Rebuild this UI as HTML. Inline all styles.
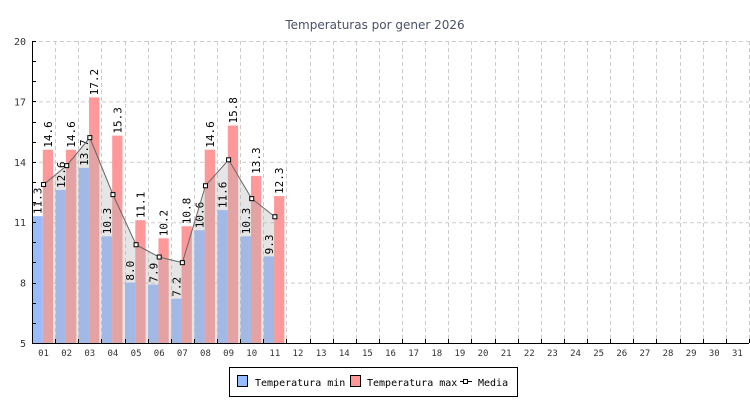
<!DOCTYPE html>
<html><head><meta charset="utf-8"><style>
body{margin:0;background:#fff;width:750px;height:400px;overflow:hidden}
svg{display:block}
text{font-family:"DejaVu Sans Mono","Liberation Mono",monospace}
</style></head><body>
<svg id="c" width="750" height="400">
<text x="375" y="29" text-anchor="middle" font-size="12" fill="#4a5068" style="font-family:'DejaVu Sans','Liberation Sans',sans-serif">Temperaturas por gener 2026</text>
<g id="grid"></g><g id="bars"></g><g id="area"></g><g id="axes"></g><g id="labels"></g><g id="line"></g>
<g>
<rect x="229.5" y="367.5" width="288" height="29" fill="#fff" stroke="#000"/>
<g><rect x="237.5" y="375.5" width="10" height="11" fill="#99bbff" stroke="#000"/><text x="255" y="386" font-size="10">Temperatura min</text></g>
<g><rect x="350.5" y="375.5" width="10" height="11" fill="#ff9999" stroke="#000"/><text x="367" y="386" font-size="10">Temperatura max</text></g>
<g><line x1="460" y1="381.5" x2="472" y2="381.5" stroke="#000"/><rect x="463.5" y="379.5" width="4" height="4" fill="#fff" stroke="#000"/><text x="478" y="386" font-size="10">Media</text></g>
</g>
</svg>
<script>
const days=["01","02","03","04","05","06","07","08","09","10","11","12","13","14","15","16","17","18","19","20","21","22","23","24","25","26","27","28","29","30","31"];
const minVals=[11.3,12.6,13.7,10.3,8.0,7.9,7.2,10.6,11.6,10.3,9.3];
const maxVals=[14.6,14.6,17.2,15.3,11.1,10.2,10.8,14.6,15.8,13.3,12.3];
const mediaVals=[12.87,13.81,15.2,12.37,9.88,9.27,8.99,12.81,14.1,12.17,11.27];
const yTicks=[5,8,11,14,17,20];
const NS="http://www.w3.org/2000/svg";
const X0=32,X1=749,Y0=343,Y1=41,YMIN=5,YMAX=20;
const cw=(X1-X0)/days.length;
const y=v=>Y0-(v-YMIN)/(YMAX-YMIN)*(Y0-Y1);
const xs=i=>X0+i*cw;
function mk(p,tag,at){const e=document.createElementNS(NS,tag);for(const k in at)e.setAttribute(k,at[k]);document.getElementById(p).appendChild(e);return e;}
yTicks.forEach(t=>{if(t>YMIN){const g=mk('grid','line',{x1:X0,x2:X1,y1:y(t)+.5,y2:y(t)+.5,stroke:'#ccc','stroke-dasharray':'4,3'});

}
const l=mk('axes','text',{x:26,y:y(t)+4,'text-anchor':'end','font-size':'10',fill:'#333'});l.textContent=t;

});
for(let v=YMIN;v<=YMAX;v++){mk('axes','line',{x1:X0,x2:X0+4,y1:Math.round(y(v))+.5,y2:Math.round(y(v))+.5,stroke:'#000'});}
days.forEach((d,i)=>{const gx=Math.round(xs(i+1))+.5;
const g=mk('grid','line',{x1:gx,x2:gx,y1:Y1,y2:Y0,stroke:'#ccc','stroke-dasharray':'4,3'});


mk('axes','line',{x1:gx,x2:gx,y1:Y0,y2:Y0-4,stroke:'#000'});
const l=mk('axes','text',{x:xs(i)+cw/2,y:Y0+13,'text-anchor':'middle','font-size':'9',fill:'#333'});l.textContent=d;

});
mk('axes','line',{x1:X0+.5,x2:X0+.5,y1:Y1,y2:Y0,stroke:'#000'});
mk('axes','line',{x1:X0,x2:X1,y1:Y0+.5,y2:Y0+.5,stroke:'#000'});
const bw=cw*0.445;
minVals.forEach((v,i)=>{const b=mk('bars','rect',{x:xs(i)+.5,y:y(v),width:bw,height:Y0-y(v),fill:'#99bbff'});


const t=mk('labels','text',{transform:`translate(${xs(i)+.5+bw/2+4},${y(v)-2}) rotate(-90)`,'font-size':'11',fill:'#000'});t.textContent=v.toFixed(1);

});
maxVals.forEach((v,i)=>{const bx=xs(i)+.5+bw;const b=mk('bars','rect',{x:bx,y:y(v),width:bw,height:Y0-y(v),fill:'#ff9999'});


const t=mk('labels','text',{transform:`translate(${bx+bw/2+4},${y(v)-2}) rotate(-90)`,'font-size':'11',fill:'#000'});t.textContent=v.toFixed(1);

});
const pts=mediaVals.map((v,i)=>[xs(i)+cw/2,y(v)]);
const poly=pts.map(p=>p.join(',')).join(' ');
const a=mk('area','polygon',{points:`${pts[0][0]},${Y0} ${poly} ${pts[pts.length-1][0]},${Y0}`,fill:'rgba(181,181,181,0.35)'});


const ln=mk('line','polyline',{points:poly,fill:'none',stroke:'#666'});


pts.forEach(p=>{const m=mk('line','rect',{x:p[0]-2,y:p[1]-2,width:4,height:4,fill:'#fff',stroke:'#000'});

});
</script>
</body></html>
